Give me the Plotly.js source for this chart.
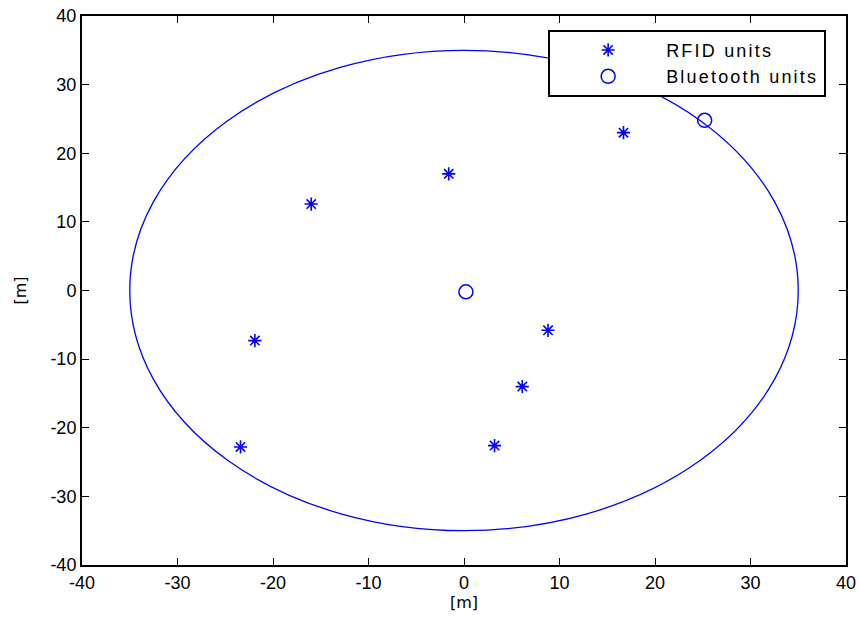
<!DOCTYPE html>
<html>
<head>
<meta charset="utf-8">
<script src="https://cdn.plot.ly/plotly-3.0.1.min.js"></script>
<style>html,body{margin:0;padding:0;background:#fff;}#chart{width:859px;height:624px;}
.legendtext{letter-spacing:2.2px;}
</style>
</head>
<body>
<div id="chart"></div>
<script>
const rfidX = [16.7, -1.6, -16.0, -21.9, -23.4, 8.8, 6.1, 3.2];
const rfidY = [23.0, 17.0, 12.6, -7.3, -22.8, -5.8, -14.0, -22.6];
const btX = [0.2, 25.2];
const btY = [-0.2, 24.8];
const rangeRadius = 35;
const axisRange = [-40, 40];
const tickVals = [-40, -30, -20, -10, 0, 10, 20, 30, 40];
const seriesNames = ['RFID units', 'Bluetooth units'];

const blue = '#0000ff';
const traces = [
  {x: rfidX, y: rfidY, mode: 'markers', type: 'scatter', name: seriesNames[0],
   marker: {symbol: 'asterisk-open', size: 11, color: blue, line: {color: blue, width: 1.6}}},
  {x: btX, y: btY, mode: 'markers', type: 'scatter', name: seriesNames[1],
   marker: {symbol: 'circle-open', size: 14, color: blue, line: {color: blue, width: 1.5}}}
];
const axisCommon = {
  range: axisRange, tickvals: tickVals, ticktext: tickVals.map(String),
  ticks: 'inside', ticklen: 7, tickwidth: 1, tickcolor: '#000',
  showline: true, linecolor: '#000', linewidth: 2, mirror: 'ticks',
  showgrid: false, zeroline: false,
  tickfont: {family: 'Liberation Sans, Arial, sans-serif', size: 18, color: '#000'}
};
const layout = {
  width: 859, height: 624,
  margin: {l: 82, r: 13, t: 16, b: 59},
  paper_bgcolor: '#fff', plot_bgcolor: '#fff',
  showlegend: true,
  xaxis: Object.assign({}, axisCommon, {title: {text: '[m]', standoff: 4, font: {family: 'DejaVu Sans, sans-serif', size: 16, color: '#000'}}}),
  yaxis: Object.assign({}, axisCommon, {title: {text: '[m]', standoff: 20, font: {family: 'DejaVu Sans, sans-serif', size: 16, color: '#000'}}}),
  legend: {x: 0.974, xanchor: 'right', y: 0.975, yanchor: 'top',
    bgcolor: '#fff', bordercolor: '#000', borderwidth: 2,
    font: {family: 'Liberation Sans, Arial, sans-serif', size: 18, color: '#000'},
    itemwidth: 106, tracegroupgap: 0},
  shapes: [{type: 'circle', xref: 'x', yref: 'y',
    x0: -rangeRadius, x1: rangeRadius, y0: -rangeRadius, y1: rangeRadius,
    line: {color: blue, width: 1.3}, layer: 'below'}]
};
Plotly.newPlot('chart', traces, layout, {displayModeBar: false, staticPlot: true});
</script>
</body>
</html>
